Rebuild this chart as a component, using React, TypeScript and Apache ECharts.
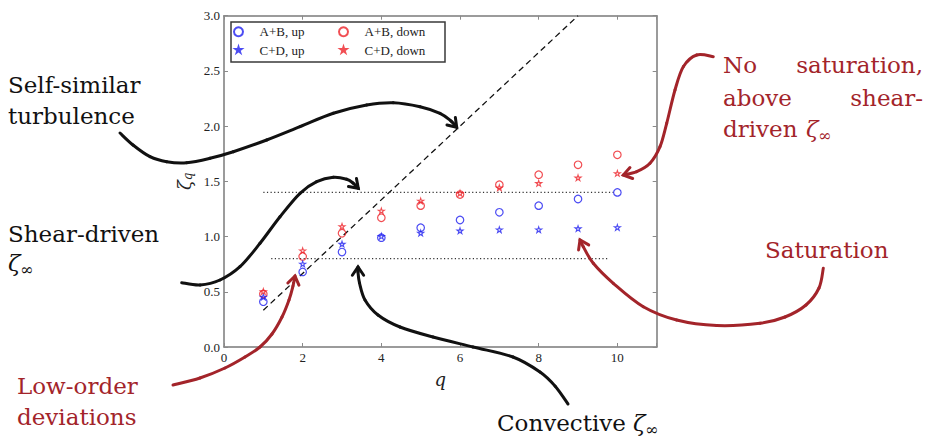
import React, { useEffect, useRef } from 'react';
import * as echarts from 'echarts';

// ---- data ----
const qValues = [1, 2, 3, 4, 5, 6, 7, 8, 9, 10];
const abUp = [0.41, 0.68, 0.86, 0.99, 1.08, 1.15, 1.22, 1.28, 1.34, 1.40];
const cdUp = [0.45, 0.75, 0.93, 1.00, 1.03, 1.05, 1.06, 1.06, 1.07, 1.08];
const abDown = [0.48, 0.82, 1.03, 1.17, 1.28, 1.38, 1.47, 1.56, 1.65, 1.74];
const cdDown = [0.50, 0.87, 1.09, 1.23, 1.32, 1.39, 1.44, 1.48, 1.53, 1.57];

const selfSimilarQ = [1, 9];
const selfSimilarZeta = [0.333, 3.0];
const shearQ = [1, 9.9];
const shearZeta = [1.4, 1.4];
const convQ = [1.2, 9.8];
const convZeta = [0.8, 0.8];

const seriesNames = ['A+B, up', 'C+D, up', 'A+B, down', 'C+D, down'];
const xMin = 0, xMax = 11, xStep = 2;
const yMin = 0, yMax = 3, yStep = 0.5;

const BLUE = '#1f1ff0';
const RED = '#ee2228';
const DARKRED = '#a3242a';
const INK = '#111111';
// star inside a padded box so it is drawn smaller than the symbol size
const STAR = 'path://M-22,-22 M122,122 M50,0 L61,35 L98,35 L68,57 L79,91 L50,70 L21,91 L32,57 L2,35 L39,35 Z';

const pairs = (xs: number[], ys: number[]) => xs.map((x, i) => [x, ys[i]]);

// annotation curves (page pixels)
const curveSelf = [[120, 133], [133, 145], [150, 156.7], [166.7, 161.7], [186.7, 162.7], [210, 158.3], [233.3, 151.7], [266.7, 140], [300, 126.7], [333.3, 113.3], [366.7, 105], [393.3, 102.7], [420, 106.7], [440, 113.3], [451, 121], [456.7, 127.3]];
const curveShear = [[181.7, 282.7], [200, 285], [220, 280], [240, 266.7], [260, 243.3], [280, 216.7], [300, 193.3], [316.7, 181.7], [333.3, 177.3], [346.7, 179.3], [353, 183], [358.3, 188.3]];
const curveLow = [[173, 385], [200, 378], [225, 368], [245, 357], [260, 347], [272, 334], [282, 317], [289, 300], [293, 286], [295, 276]];
const curveConv = [[568, 404], [555, 386], [540, 372], [513, 357], [473, 347], [433, 337], [400, 327], [378, 315], [365, 300], [359.5, 283], [358, 272], [358, 267]];
const curveSat = [[823.3, 268.3], [819, 288], [806, 305], [785, 317], [760, 323.3], [716.7, 325.5], [676.7, 320], [643.3, 306.7], [613.3, 283.3], [593.3, 263.3], [583.3, 246.7], [580, 240]];
const curveNoSat = [[713.3, 56.7], [696.7, 55], [683.3, 66.7], [675, 90], [666.7, 123.3], [660, 146.7], [650, 163.3], [636.7, 171.7], [623.3, 175]];

function arrowHead(pts: number[][], len = 10, ang = 0.6) {
  const [px, py] = pts[pts.length - 1];
  const [qx, qy] = pts[pts.length - 2];
  const dx = px - qx, dy = py - qy;
  const d = Math.hypot(dx, dy);
  const ux = dx / d, uy = dy / d;
  const rot = (a: number) => [
    px - (ux * Math.cos(a) - uy * Math.sin(a)) * len,
    py - (ux * Math.sin(a) + uy * Math.cos(a)) * len,
  ];
  return [rot(ang), [px, py], rot(-ang)];
}

// Catmull-Rom spline through points, as cubic bezier segments
function smoothCurve(pts: number[][], color: string) {
  const out: any[] = [];
  const n = pts.length;
  for (let i = 0; i < n - 1; i++) {
    const p0 = pts[Math.max(0, i - 1)];
    const p1 = pts[i];
    const p2 = pts[i + 1];
    const p3 = pts[Math.min(n - 1, i + 2)];
    out.push({
      type: 'bezierCurve', z: 50, silent: true,
      shape: {
        x1: p1[0], y1: p1[1], x2: p2[0], y2: p2[1],
        cpx1: p1[0] + (p2[0] - p0[0]) / 6, cpy1: p1[1] + (p2[1] - p0[1]) / 6,
        cpx2: p2[0] - (p3[0] - p1[0]) / 6, cpy2: p2[1] - (p3[1] - p1[1]) / 6,
      },
      style: { stroke: color, lineWidth: 3, fill: null, lineCap: 'round' },
    });
  }
  return out;
}

function arrow(pts: number[][], color: string) {
  return [
    ...smoothCurve(pts, color),
    { type: 'polyline', z: 50, shape: { points: arrowHead(pts) }, style: { stroke: color, lineWidth: 3, fill: null, lineCap: 'round', lineJoin: 'miter' }, silent: true },
  ];
}

const ANN = 'DejaVu Serif';
function txt(text: string, x: number, baseline: number, color: string, align = 'left', size = 23, italic = false) {
  return {
    type: 'text', z: 60, x, y: baseline - size * 0.35, silent: true,
    style: { text, fill: color, font: `${italic ? 'italic ' : ''}${size}px "${ANN}"`, align, verticalAlign: 'middle' },
  };
}
function zetaInf(x: number, baseline: number, color: string) {
  return [
    txt('ζ', x, baseline, color, 'left', 23, true),
    txt('∞', x + 12, baseline + 4, color, 'left', 16, false),
  ];
}

export default function App() {
  const ref = useRef<HTMLDivElement>(null);
  useEffect(() => {
    if (!ref.current) return;
    const chart = echarts.init(ref.current, undefined, { renderer: 'svg' });
    const axisCommon = {
      axisLine: { show: true, onZero: false, lineStyle: { color: '#7a7a7a', width: 1.5 } },
      axisTick: { show: true, inside: true, length: 4, lineStyle: { color: '#8a8a8a', width: 1 } },
      splitLine: { show: false },
    };
    const labelStyle = { color: '#222', fontFamily: 'Liberation Serif', fontSize: 13 };
    const legendText = { fontFamily: 'Liberation Serif', fontSize: 13, lineHeight: 14, color: '#222' };
    const option: any = {
      animation: false,
      backgroundColor: '#ffffff',
      grid: { left: 224, top: 15.7, right: 274.3, bottom: 91, outerBoundsMode: 'none' },
      xAxis: [
        {
          ...axisCommon, type: 'value', position: 'bottom', min: xMin, max: xMax, interval: xStep,
          axisLabel: { ...labelStyle, margin: 4, formatter: (v: number) => (v > 10 ? '' : String(v)) },
          name: 'q', nameLocation: 'middle', nameGap: 23,
          nameTextStyle: { fontFamily: ANN, fontStyle: 'italic', fontSize: 18, color: '#222' },
        },
        {
          ...axisCommon, type: 'value', position: 'top', min: xMin, max: xMax, interval: xStep,
          axisLabel: { show: false },
        },
      ],
      yAxis: [
        {
          ...axisCommon, type: 'value', position: 'left', min: yMin, max: yMax, interval: yStep,
          axisLabel: { ...labelStyle, margin: 4, formatter: (v: number) => v.toFixed(1) },
          name: '{z|ζ}{s|q}', nameLocation: 'middle', nameGap: 30, nameRotate: 90,
          nameTextStyle: {
            color: '#222',
            rich: {
              z: { fontFamily: ANN, fontStyle: 'italic', fontSize: 18, color: '#222' },
              s: { fontFamily: ANN, fontStyle: 'italic', fontSize: 12, color: '#222', verticalAlign: 'bottom', padding: [8, 0, 0, 0] },
            },
          },
        },
        {
          ...axisCommon, type: 'value', position: 'right', min: yMin, max: yMax, interval: yStep,
          axisLabel: { show: false },
        },
      ],
      legend: [
        {
          orient: 'vertical', left: 233, top: 24.7, padding: 0, itemGap: 4.3, itemWidth: 32, itemHeight: 9, z: 20,
          data: [seriesNames[0], seriesNames[1]], textStyle: legendText,
        },
        {
          orient: 'vertical', left: 338, top: 24.7, padding: 0, itemGap: 4.3, itemWidth: 32, itemHeight: 9, z: 20,
          data: [seriesNames[2], seriesNames[3]], textStyle: legendText,
        },
      ],
      series: [
        {
          name: 'selfSimilar', type: 'line', data: pairs(selfSimilarQ, selfSimilarZeta), symbol: 'none',
          lineStyle: { color: '#111', width: 1.3, type: [6, 4] }, silent: true, z: 1,
        },
        {
          name: 'shear', type: 'line', data: pairs(shearQ, shearZeta), symbol: 'none',
          lineStyle: { color: '#333', width: 1.3, type: [1.2, 2.4] }, silent: true, z: 1,
        },
        {
          name: 'conv', type: 'line', data: pairs(convQ, convZeta), symbol: 'none',
          lineStyle: { color: '#333', width: 1.3, type: [1.2, 2.4] }, silent: true, z: 1,
        },
        {
          name: seriesNames[0], type: 'scatter', data: pairs(qValues, abUp), symbol: 'circle', symbolSize: 7.5,
          itemStyle: { color: 'rgba(0,0,0,0)', borderColor: BLUE, borderWidth: 1.2 }, z: 3,
        },
        {
          name: seriesNames[1], type: 'scatter', data: pairs(qValues, cdUp), symbol: STAR, symbolSize: 9,
          itemStyle: { color: 'rgba(0,0,0,0)', borderColor: BLUE, borderWidth: 1.1 }, z: 4,
        },
        {
          name: seriesNames[2], type: 'scatter', data: pairs(qValues, abDown), symbol: 'circle', symbolSize: 7.5,
          itemStyle: { color: 'rgba(0,0,0,0)', borderColor: RED, borderWidth: 1.2 }, z: 3,
        },
        {
          name: seriesNames[3], type: 'scatter', data: pairs(qValues, cdDown), symbol: STAR, symbolSize: 9,
          itemStyle: { color: 'rgba(0,0,0,0)', borderColor: RED, borderWidth: 1.1 }, z: 4,
        },
      ],
      graphic: [
        {
          type: 'rect', z: 10, shape: { x: 231, y: 22, width: 214, height: 40 },
          style: { fill: '#ffffff', stroke: '#3a3a3a', lineWidth: 1.5 }, silent: true,
        },
        ...arrow(curveSelf, INK),
        ...arrow(curveShear, INK),
        ...arrow(curveConv, INK),
        ...arrow(curveLow, DARKRED),
        ...arrow(curveSat, DARKRED),
        ...arrow(curveNoSat, DARKRED),
        txt('Self-similar', 8, 93, INK),
        txt('turbulence', 8, 124, INK),
        txt('Shear-driven', 8, 242, INK),
        ...zetaInf(8, 271, INK),
        txt('Low-order', 17, 394, DARKRED),
        txt('deviations', 17, 425, DARKRED),
        txt('Convective', 497, 431, INK),
        ...zetaInf(633, 431, INK),
        txt('No', 723, 73, DARKRED),
        txt('saturation,', 923, 73, DARKRED, 'right'),
        txt('above', 723, 106, DARKRED),
        txt('shear-', 923, 106, DARKRED, 'right'),
        txt('driven', 723, 137, DARKRED),
        ...zetaInf(806, 137, DARKRED),
        txt('Saturation', 765, 258, DARKRED),
      ],
    };
    chart.setOption(option);
    return () => chart.dispose();
  }, []);
  return (
    <div
      ref={ref}
      style={{ position: 'absolute', left: 0, top: 0, width: 931, height: 438 }}
    />
  );
}
